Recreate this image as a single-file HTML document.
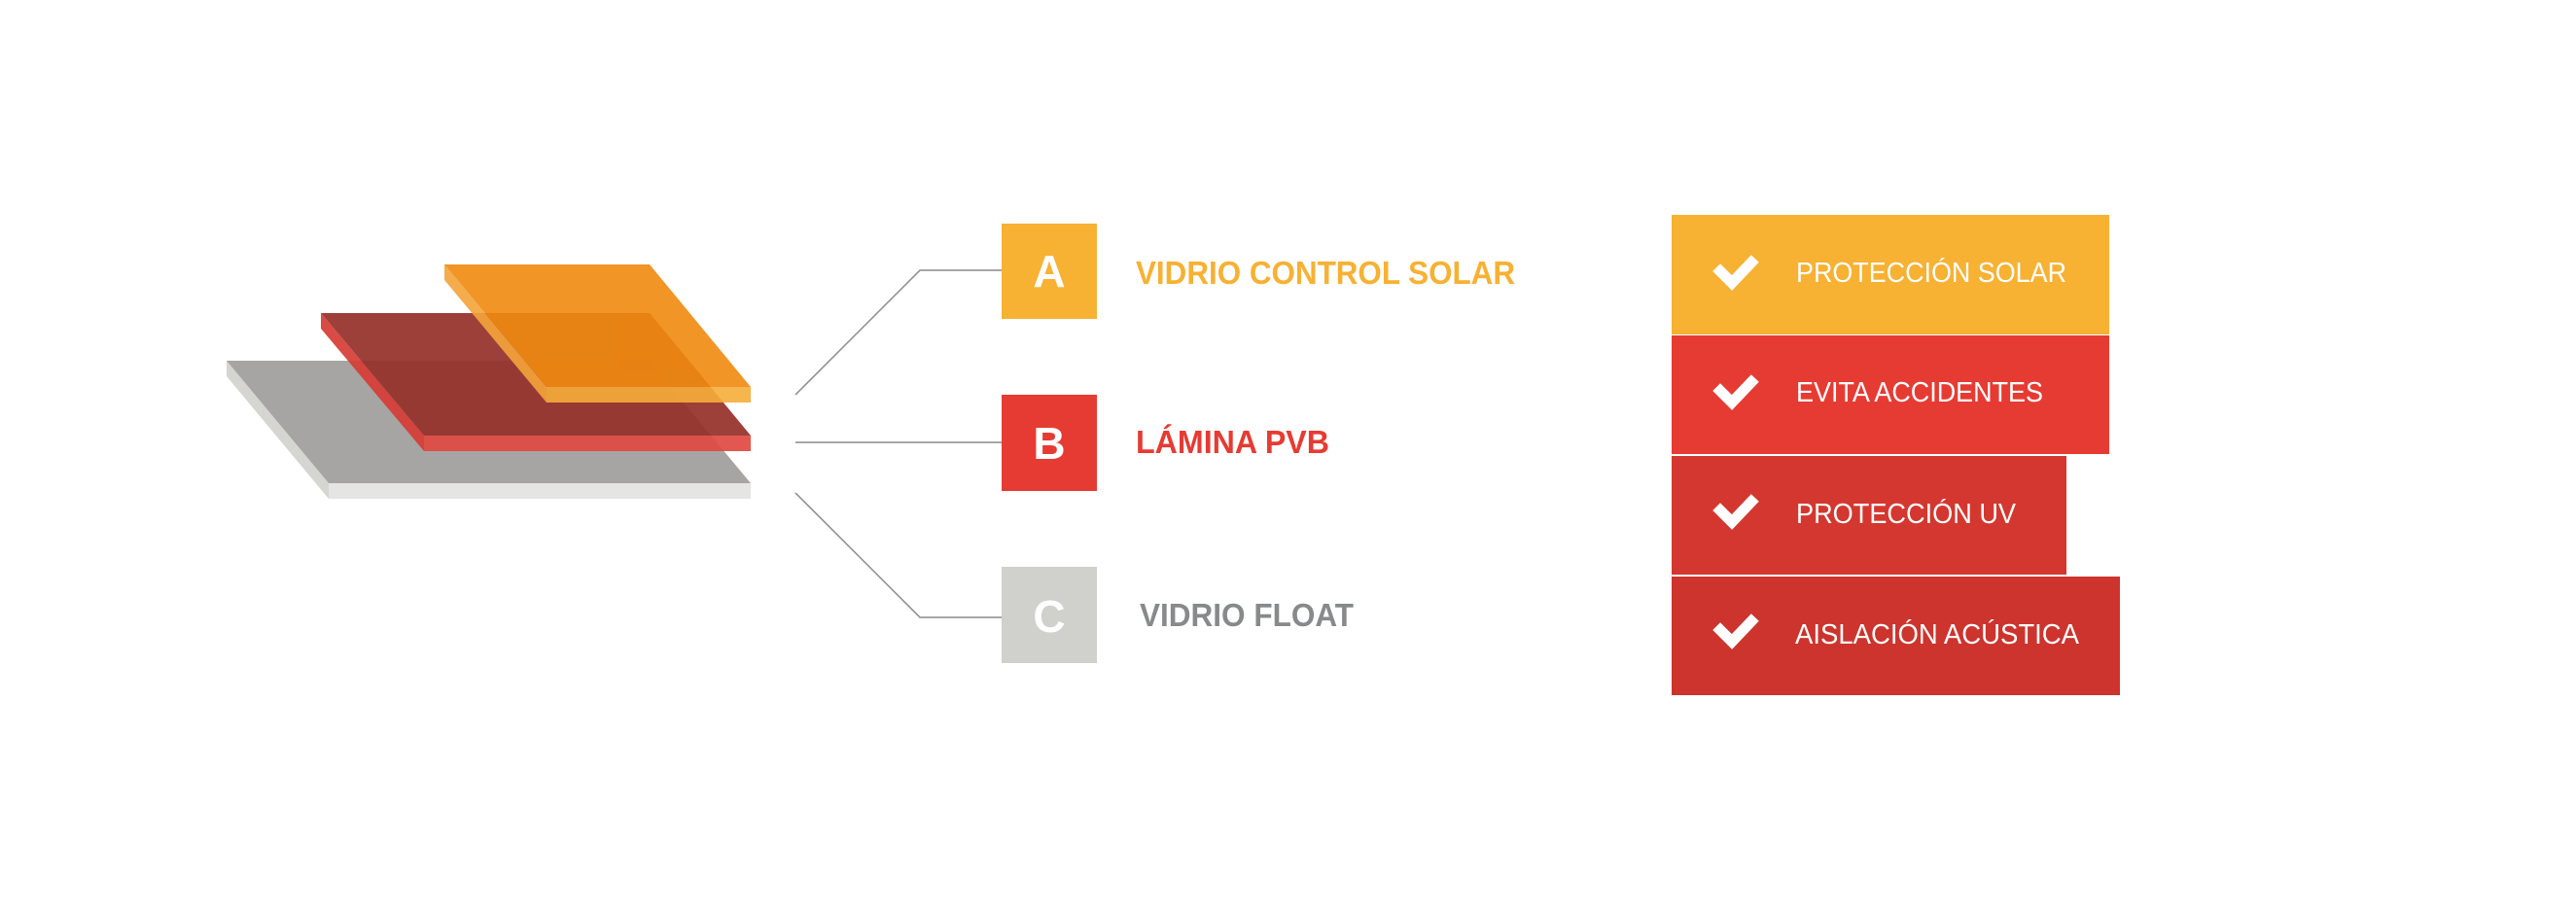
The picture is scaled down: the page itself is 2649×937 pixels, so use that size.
<!DOCTYPE html>
<html><head><meta charset="utf-8"><style>html,body{margin:0;padding:0;background:#fff;width:2649px;height:937px;overflow:hidden}</style></head>
<body>
<svg width="2649" height="937" viewBox="0 0 2649 937" xmlns="http://www.w3.org/2000/svg" font-family="'Liberation Sans', sans-serif">
<rect width="2649" height="937" fill="#fff"/>
<!-- gray layer -->
<polygon points="233,371 338,497 338,513 233,387" fill="#d5d5d2"/>
<polygon points="338,497 772,497 772,513 338,513" fill="#e5e5e3"/>
<polygon points="233,371 667,371 772,497 338,497" fill="#a6a5a3"/>
<!-- red layer -->
<g opacity="0.92">
<polygon points="330,322 436,448 436,464 330,338" fill="#d63c35"/>
<polygon points="436,448 772,448 772,464 436,464" fill="#e04a42"/>
<polygon points="330,322 668,322 772,448 436,448" fill="#95302a"/>
</g>
<!-- orange layer -->
<g opacity="0.9">
<polygon points="457,272 562,398 562,414 457,288" fill="#f5a43a"/>
<polygon points="562,398 772,398 772,414 562,414" fill="#f7ad3a"/>
<polygon points="457,272 668,272 772,398 562,398" fill="#f08a10"/>
</g>
<!-- connectors -->
<g stroke="#8a8a8a" stroke-width="1.5" fill="none">
<polyline points="818,406 946,278 1030,278"/>
<line x1="818" y1="455" x2="1030" y2="455"/>
<polyline points="818,507 946,635 1030,635"/>
</g>
<!-- boxes -->
<rect x="1030" y="230" width="98" height="98" fill="#f7b133"/>
<rect x="1030" y="406" width="98" height="99" fill="#e63b33"/>
<rect x="1030" y="583" width="98" height="99" fill="#d0d0cc"/>
<g fill="#fff" font-weight="bold" font-size="46" text-anchor="middle">
<text x="1079" y="295">A</text>
<text x="1079" y="472">B</text>
<text x="1079" y="650">C</text>
</g>
<g font-weight="bold" font-size="33">
<text x="1168" y="292" fill="#f7b133" textLength="390" lengthAdjust="spacingAndGlyphs">VIDRIO CONTROL SOLAR</text>
<text x="1168" y="466" fill="#e63b33" textLength="199" lengthAdjust="spacingAndGlyphs">LÁMINA PVB</text>
<text x="1172" y="644" fill="#87898a" textLength="220" lengthAdjust="spacingAndGlyphs">VIDRIO FLOAT</text>
</g>
<!-- right list -->
<rect x="1719" y="221" width="450" height="123" fill="#f7b133"/>
<rect x="1719" y="345" width="450" height="122" fill="#e63b33"/>
<rect x="1719" y="469" width="406" height="122" fill="#d4372f"/>
<rect x="1719" y="593" width="461" height="122" fill="#cc342d"/>
<g stroke="#fff" stroke-width="11" fill="none" stroke-linecap="square">
<polyline points="1769,279 1781,291 1801,270"/>
<polyline points="1769,402 1781,414 1801,393"/>
<polyline points="1769,525 1781,537 1801,516"/>
<polyline points="1769,648 1781,660 1801,639"/>
</g>
<g fill="#fff" font-size="29">
<text x="1847" y="290" textLength="278" lengthAdjust="spacingAndGlyphs">PROTECCIÓN SOLAR</text>
<text x="1847" y="413" textLength="254" lengthAdjust="spacingAndGlyphs">EVITA ACCIDENTES</text>
<text x="1847" y="538" textLength="226" lengthAdjust="spacingAndGlyphs">PROTECCIÓN UV</text>
<text x="1846" y="662" textLength="292" lengthAdjust="spacingAndGlyphs">AISLACIÓN ACÚSTICA</text>
</g>
</svg>
</body></html>
